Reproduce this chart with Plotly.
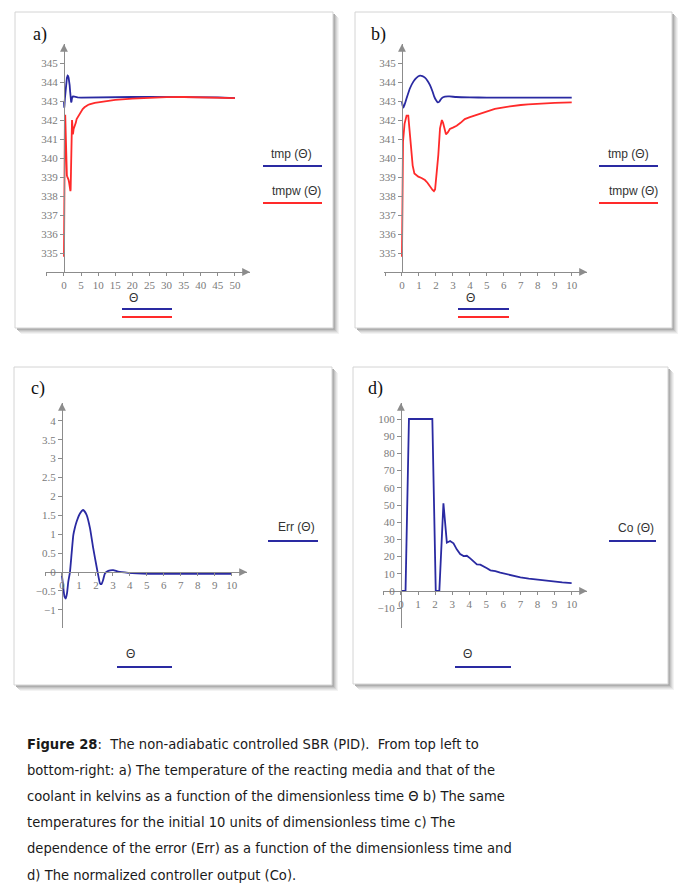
import plotly.graph_objects as go

# The page body has an 8px margin; the figure is sized to fit inside it.
OFF = 8
W, H = 693 - OFF, 896 - OFF

# ---------------- data ----------------
theta_tmp = [0, 0.04, 0.08, 0.15, 0.27, 0.47, 0.67, 0.85, 1.06, 1.2, 1.35, 1.5, 1.65, 1.8, 1.9,
             2.0, 2.1, 2.2, 2.33, 2.53, 2.8, 3.2, 4, 5, 6, 7, 8, 9, 10]
tmp_b = [342.96, 342.75, 342.65, 342.8, 343.14, 343.67, 344.02, 344.22, 344.33, 344.31, 344.23,
         344.07, 343.84, 343.5, 343.23, 343.05, 342.93, 342.97, 343.14, 343.23, 343.24, 343.21,
         343.19, 343.18, 343.18, 343.18, 343.18, 343.18, 343.18]

theta_tmpw = [0, 0.03, 0.06, 0.15, 0.27, 0.37, 0.45, 0.53, 0.63, 0.73, 0.85, 0.96, 1.15, 1.35, 1.5,
              1.65, 1.8, 1.88, 1.95, 2.05, 2.14, 2.24, 2.35, 2.42, 2.49, 2.59, 2.7, 2.82, 3.0, 3.22,
              3.45, 3.7, 4.0, 4.49, 5.0, 5.47, 6.0, 6.45, 7.0, 7.43, 8.0, 8.41, 9.0, 10.0]
tmpw_b = [334.8, 337.5, 340.86, 341.8, 342.23, 342.23, 341.3, 340.33, 339.6, 339.19, 339.08, 339.02,
          338.95, 338.84, 338.7, 338.49, 338.32, 338.26, 338.35, 339.3, 340.16, 341.56, 342.0,
          341.85, 341.56, 341.25, 341.35, 341.53, 341.6, 341.7, 341.85, 342.05, 342.15, 342.3,
          342.45, 342.58, 342.67, 342.74, 342.79, 342.82, 342.86, 342.88, 342.9, 342.93]

theta_tail = [12, 15, 20, 25, 30, 35, 40, 45, 50]
tmp_tail = [343.19, 343.2, 343.21, 343.22, 343.22, 343.22, 343.21, 343.19, 343.15]
tmpw_tail = [342.98, 343.06, 343.13, 343.17, 343.2, 343.21, 343.2, 343.18, 343.15]

theta_err = [0, 0.05, 0.1, 0.15, 0.22, 0.3, 0.37, 0.47, 0.57, 0.67, 0.76, 0.86, 1.06, 1.25, 1.45,
             1.65, 1.84, 2.04, 2.15, 2.24, 2.33, 2.43, 2.53, 2.73, 3.02, 3.31, 3.9, 5.08, 6, 7, 8, 9, 10]
err = [-0.1, -0.3, -0.5, -0.65, -0.7, -0.55, -0.26, 0.0, 0.5, 0.98, 1.17, 1.33, 1.55, 1.64, 1.51,
       1.16, 0.63, 0.14, -0.12, -0.30, -0.32, -0.2, -0.04, 0.03, 0.05, 0.01, -0.02, -0.045, -0.05,
       -0.05, -0.05, -0.05, -0.05]

theta_co = [0, 0.27, 0.47, 1.84, 2.04, 2.25, 2.49, 2.69, 2.88, 3.08, 3.27, 3.47, 3.67, 3.86, 4.06,
            4.25, 4.45, 4.65, 4.84, 5.04, 5.24, 5.53, 5.82, 6.12, 6.51, 7.0, 7.49, 8.47, 9.45, 10.0]
co = [0, 0, 100, 100, 0, 0, 51, 28.1, 29.1, 27.7, 24.2, 21.5, 20.3, 20.5, 19.0, 17.1, 15.5, 15.3,
      14.5, 13.2, 12.0, 11.6, 10.7, 9.9, 9.1, 7.9, 7.2, 6.0, 5.0, 4.6]

ticks_a_x = [-5, 0, 5, 10, 15, 20, 25, 30, 35, 40, 45, 50]
ticks_b_x = [-1, 0, 1, 2, 3, 4, 5, 6, 7, 8, 9, 10]
ticks_temp_y = [335, 336, 337, 338, 339, 340, 341, 342, 343, 344, 345]
ticks_err_y = [-1, -0.5, 0, 0.5, 1, 1.5, 2, 2.5, 3, 3.5, 4]
ticks_co_y = [-10, 0, 10, 20, 30, 40, 50, 60, 70, 80, 90, 100]

caption_lines = [
    "<b>Figure 28</b>:\u00a0 The non-adiabatic controlled SBR (PID).\u00a0 From top left to",
    "bottom-right: a) The temperature of the reacting media and that of the",
    "coolant in kelvins as a function of the dimensionless time \u0398 b) The same",
    "temperatures for the initial 10 units of dimensionless time c) The",
    "dependence of the error (Err) as a function of the dimensionless time and",
    "d) The normalized controller output (Co).",
]

BLUE = "#2a2aa2"
RED = "#ff2a2a"
AX = "#8c8c8c"
TICKFONT = dict(family="Liberation Serif, Times New Roman, serif", size=11, color="#7a7a7a")


def fx(px):
    return (px - OFF) / W


def fy(py):
    return 1 - (py - OFF) / H


def lab(v):
    s = ("%g" % v)
    return s.replace("-", "\u2212")


fig = go.Figure()

# traces
fig.add_trace(go.Scatter(x=theta_tmp + theta_tail, y=tmp_b + tmp_tail, mode="lines",
                         line=dict(color=BLUE, width=1.8), xaxis="x", yaxis="y"))
fig.add_trace(go.Scatter(x=theta_tmpw + theta_tail, y=tmpw_b + tmpw_tail, mode="lines",
                         line=dict(color=RED, width=1.8), xaxis="x", yaxis="y"))
fig.add_trace(go.Scatter(x=theta_tmp, y=tmp_b, mode="lines",
                         line=dict(color=BLUE, width=1.8, shape="spline", smoothing=0.5), xaxis="x2", yaxis="y2"))
fig.add_trace(go.Scatter(x=theta_tmpw, y=tmpw_b, mode="lines",
                         line=dict(color=RED, width=1.8), xaxis="x2", yaxis="y2"))
fig.add_trace(go.Scatter(x=theta_err, y=err, mode="lines",
                         line=dict(color=BLUE, width=1.8, shape="spline", smoothing=0.5), xaxis="x3", yaxis="y3"))
fig.add_trace(go.Scatter(x=theta_co, y=co, mode="lines",
                         line=dict(color=BLUE, width=1.8), xaxis="x4", yaxis="y4"))

common = dict(showgrid=False, zeroline=False, showline=True, linecolor=AX, linewidth=1,
              ticks="outside", ticklen=4, tickcolor=AX, tickfont=TICKFONT, fixedrange=True)

# panel geometry (window pixels): x-domain, y-domain, ranges, axis positions
panels = {
    "1": dict(xd=(46, 250), yd=(272, 44), xr=(-5.26, 54.4), yr=(334, 346), yaxpx=64, xaxpx=None,
              xt=ticks_a_x, yt=ticks_temp_y),
    "2": dict(xd=(384, 587), yd=(272, 44), xr=(-1.06, 10.9), yr=(334, 346), yaxpx=402, xaxpx=None,
              xt=ticks_b_x, yt=ticks_temp_y),
    "3": dict(xd=(45, 247), yd=(628, 403), xr=(-1.0, 10.9), yr=(-1.48, 4.47), yaxpx=62, xaxpx=572,
              xt=ticks_b_x, yt=ticks_err_y),
    "4": dict(xd=(383, 587), yd=(628, 403), xr=(-1.05, 10.9), yr=(-21.5, 109.3), yaxpx=401, xaxpx=591,
              xt=ticks_b_x, yt=ticks_co_y),
}

layout_axes = {}
annotations = []
for k, p in panels.items():
    xname = "xaxis" if k == "1" else "xaxis" + k
    yname = "yaxis" if k == "1" else "yaxis" + k
    yref = "y" if k == "1" else "y" + k
    xref = "x" if k == "1" else "x" + k
    xt_text = [lab(v) if v >= 0 else "" for v in p["xt"]]
    xa = dict(common, domain=[fx(p["xd"][0]), fx(p["xd"][1])], range=list(p["xr"]),
              tickvals=p["xt"], ticktext=xt_text, ticklen=3)
    if p["xaxpx"] is None:
        xa["anchor"] = yref
    else:
        xa["anchor"] = "free"
        xa["position"] = fy(p["xaxpx"])
    ya = dict(common, domain=[fy(p["yd"][0]), fy(p["yd"][1])], range=list(p["yr"]),
              anchor="free", position=fx(p["yaxpx"]),
              tickvals=p["yt"], ticktext=[lab(v) for v in p["yt"]])
    layout_axes[xname] = xa
    layout_axes[yname] = ya
    # arrow heads
    x_axis_y = p["yr"][0] if p["xaxpx"] is None else 0
    annotations.append(dict(x=p["xr"][1], y=x_axis_y, xref=xref, yref=yref, ax=-7, ay=0,
                            showarrow=True, arrowhead=2, arrowsize=1.2, arrowwidth=1.3,
                            arrowcolor=AX, text=""))
    annotations.append(dict(x=0, y=p["yr"][1], xref=xref, yref=yref, ax=0, ay=7,
                            showarrow=True, arrowhead=2, arrowsize=1.2, arrowwidth=1.3,
                            arrowcolor=AX, text=""))

# frames with shadows
shapes = []
frames = [(15, 12, 333, 328), (355, 12, 672, 328), (14, 367, 332, 685), (353, 367, 668, 684)]
for (x0, y0, x1, y1) in frames:
    for off, col in [(6, "#f3f3f3"), (5, "#e6e6e6"), (4, "#d6d6d6"), (3, "#c4c4c4"), (2, "#aeaeae")]:
        shapes.append(dict(type="rect", xref="paper", yref="paper", layer="below",
                           x0=fx(x0 + off), x1=fx(x1 + off), y0=fy(y0 + off), y1=fy(y1 + off),
                           line=dict(width=0), fillcolor=col))
    shapes.append(dict(type="rect", xref="paper", yref="paper", layer="below",
                       x0=fx(x0), x1=fx(x1), y0=fy(y0), y1=fy(y1),
                       line=dict(width=1, color="#d4d4d4"), fillcolor="white"))

LEGFONT = dict(family="Liberation Sans, Arial, sans-serif", size=12, color="#333333")


def text(px, py, s, font, xanchor="center"):
    annotations.append(dict(x=fx(px), y=fy(py), xref="paper", yref="paper", text=s,
                            showarrow=False, font=font, xanchor=xanchor, yanchor="middle"))


def hline(x0, x1, py, color):
    shapes.append(dict(type="line", xref="paper", yref="paper", x0=fx(x0), x1=fx(x1),
                       y0=fy(py), y1=fy(py), line=dict(color=color, width=2)))


THFONT = dict(LEGFONT, size=12)
# legends
text(291, 154, "tmp (\u0398)", LEGFONT)
hline(263, 322, 166, BLUE)
text(296, 191, "tmpw (\u0398)", LEGFONT)
hline(263, 322, 203, RED)
text(133, 298, "\u0398", THFONT)
hline(122, 172, 309, BLUE)
hline(122, 172, 317, RED)

text(628, 154, "tmp (\u0398)", LEGFONT)
hline(599, 658, 166, BLUE)
text(633, 191, "tmpw (\u0398)", LEGFONT)
hline(599, 658, 203, RED)
text(470, 298, "\u0398", THFONT)
hline(458, 509, 309, BLUE)
hline(458, 509, 317, RED)

text(296, 527, "Err (\u0398)", LEGFONT)
hline(268, 318, 541, BLUE)
text(130, 654, "\u0398", THFONT)
hline(117, 172, 667, BLUE)

text(636, 528, "Co (\u0398)", LEGFONT)
hline(609, 656, 541, BLUE)
text(468, 654, "\u0398", THFONT)
hline(455, 511, 667, BLUE)

# panel labels
LBLFONT = dict(family="Liberation Serif, Times New Roman, serif", size=18, color="#111111")
text(40, 35, "a)", LBLFONT)
text(378, 35, "b)", LBLFONT)
text(38, 388, "c)", LBLFONT)
text(375, 388, "d)", LBLFONT)

# caption
CAPFONT = dict(family="DejaVu Sans Condensed, Liberation Sans Narrow, sans-serif",
               size=14.6, color="#1a1a1a")
for i, line in enumerate(caption_lines):
    text(25, 743 + 26.2 * i, line, CAPFONT, xanchor="left")

fig.update_layout(width=W, height=H, autosize=False, margin=dict(l=0, r=0, t=0, b=0),
                  paper_bgcolor="white", plot_bgcolor="rgba(0,0,0,0)", showlegend=False,
                  shapes=shapes, annotations=annotations, **layout_axes)

fig.write_html("out.html")
